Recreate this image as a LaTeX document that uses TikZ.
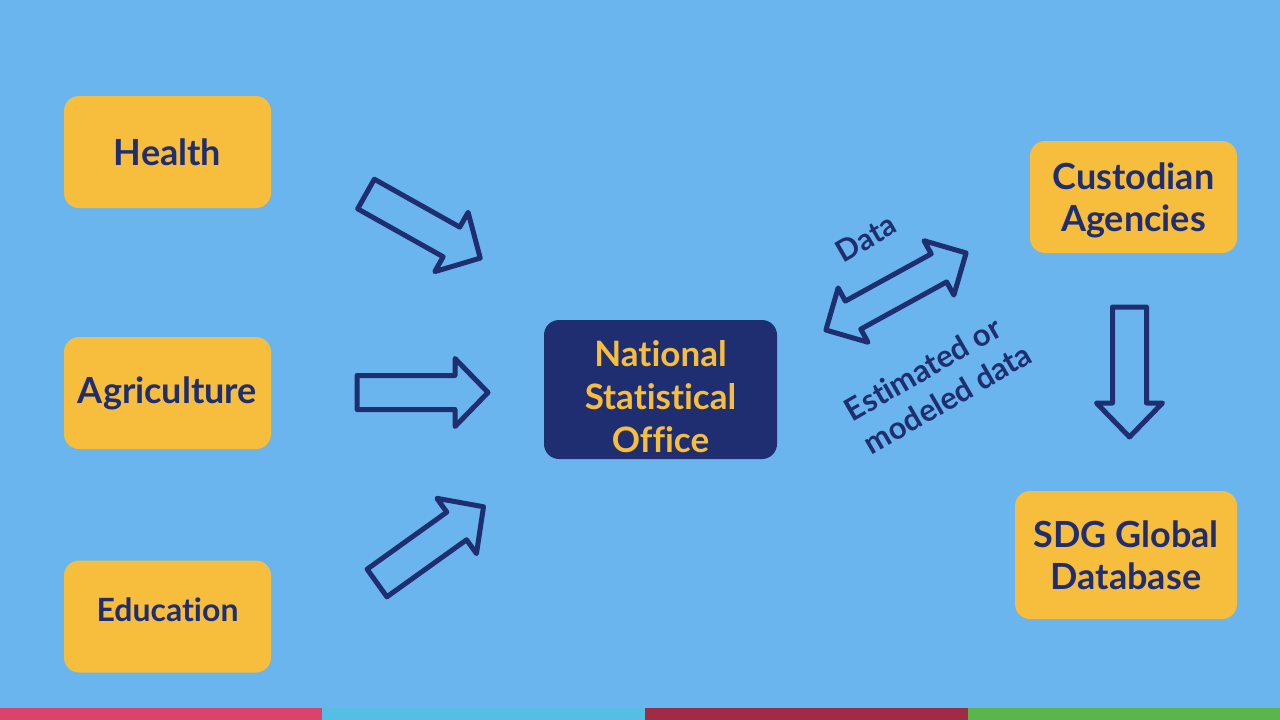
\documentclass[tikz,border=0pt]{standalone}
\usepackage{fontspec}
\setmainfont{Lato}[Ligatures={CommonOff}]
\usepackage{tikz}
\usetikzlibrary{calc}

\definecolor{bgblue}{RGB}{106,181,237}
\definecolor{boxorange}{RGB}{247,189,60}
\definecolor{navy}{RGB}{30,46,112}
\definecolor{stripepink}{RGB}{217,67,108}
\definecolor{stripecyan}{RGB}{86,190,227}
\definecolor{stripered}{RGB}{160,43,69}
\definecolor{stripegreen}{RGB}{91,181,74}

\begin{document}
\begin{tikzpicture}[x=1pt,y=-1pt,
    sector/.style={fill=boxorange,rounded corners=15pt,text=navy,align=center,
      font=\fontsize{36}{42}\selectfont\bfseries,inner sep=0pt,
      minimum width=207pt,minimum height=112pt},
    office/.style={fill=navy,rounded corners=15pt,inner sep=0pt},
    officetext/.style={text=boxorange,align=center,font=\fontsize{35}{43}\selectfont\bfseries},
    flowlabel/.style={text=navy,font=\fontsize{31}{38}\selectfont\bfseries,rotate=30,align=left},
    blockarrow/.style={draw=navy,line width=5pt,line join=round}]
      \fill[bgblue] (0,0) rectangle (1280,720);
      % colour band at the bottom
      \fill[stripepink] (0,708) rectangle (322,720);
      \fill[stripecyan] (322,708) rectangle (645,720);
      \fill[stripered] (645,708) rectangle (968,720);
      \fill[stripegreen] (968,708) rectangle (1280,720);

      \node[sector] (health) at (167.5,152) {Health};
      \node[sector] (agri) at (167.5,393) {Agriculture};
      \node[sector,font=\fontsize{32}{40}\selectfont\bfseries,text depth=14pt] (edu) at (167.5,616.5) {Education};
      \node[office,minimum width=233pt,minimum height=139pt] (nso) at (660.5,389.5) {};
      \node[officetext] (nsotitle) at ($(nso.center)+(0,7)$) {National\\Statistical\\Office};
      \node[sector,text depth=0pt] (custodian) at (1133.5,197) {Custodian\\Agencies};
      \node[sector,minimum width=222pt,minimum height=128pt] (sdg) at (1126,555) {SDG Global\\Database};

      % block arrows: shaft 34 wide, head 68 wide, 131 long
      \draw[blockarrow,shift={(366,194)},rotate=-29.3] (0,-17) -- (98,-17) -- (98,-34) -- (131,0) -- (98,34) -- (98,17) -- (0,17) -- cycle;
      \draw[blockarrow,shift={(357,392.5)}] (0,-17) -- (98,-17) -- (98,-34) -- (131,0) -- (98,34) -- (98,17) -- (0,17) -- cycle;
      \draw[blockarrow,shift={(377,583)},rotate=35.6] (0,-17) -- (98,-17) -- (98,-34) -- (131,0) -- (98,34) -- (98,17) -- (0,17) -- cycle;
      \draw[blockarrow,shift={(1129.5,307)},rotate=-90] (0,-17) -- (96,-17) -- (96,-33) -- (130,0) -- (96,33) -- (96,17) -- (0,17) -- cycle;
      % two-way arrow between office and agencies
      \draw[blockarrow,shift={(896,291.5)},rotate=28.8] (-80,0) -- (-49,-31) -- (-49,-16) -- (49,-16) -- (49,-31) -- (80,0) -- (49,31) -- (49,16) -- (-49,16) -- (-49,31) -- cycle;

      \node[flowlabel,font=\fontsize{30}{36}\selectfont\bfseries] (data) at (866,238) {Data};
      \node[flowlabel] (estimated) at (938,382) {Estimated or\\modeled data};
    \end{tikzpicture}
\end{document}
